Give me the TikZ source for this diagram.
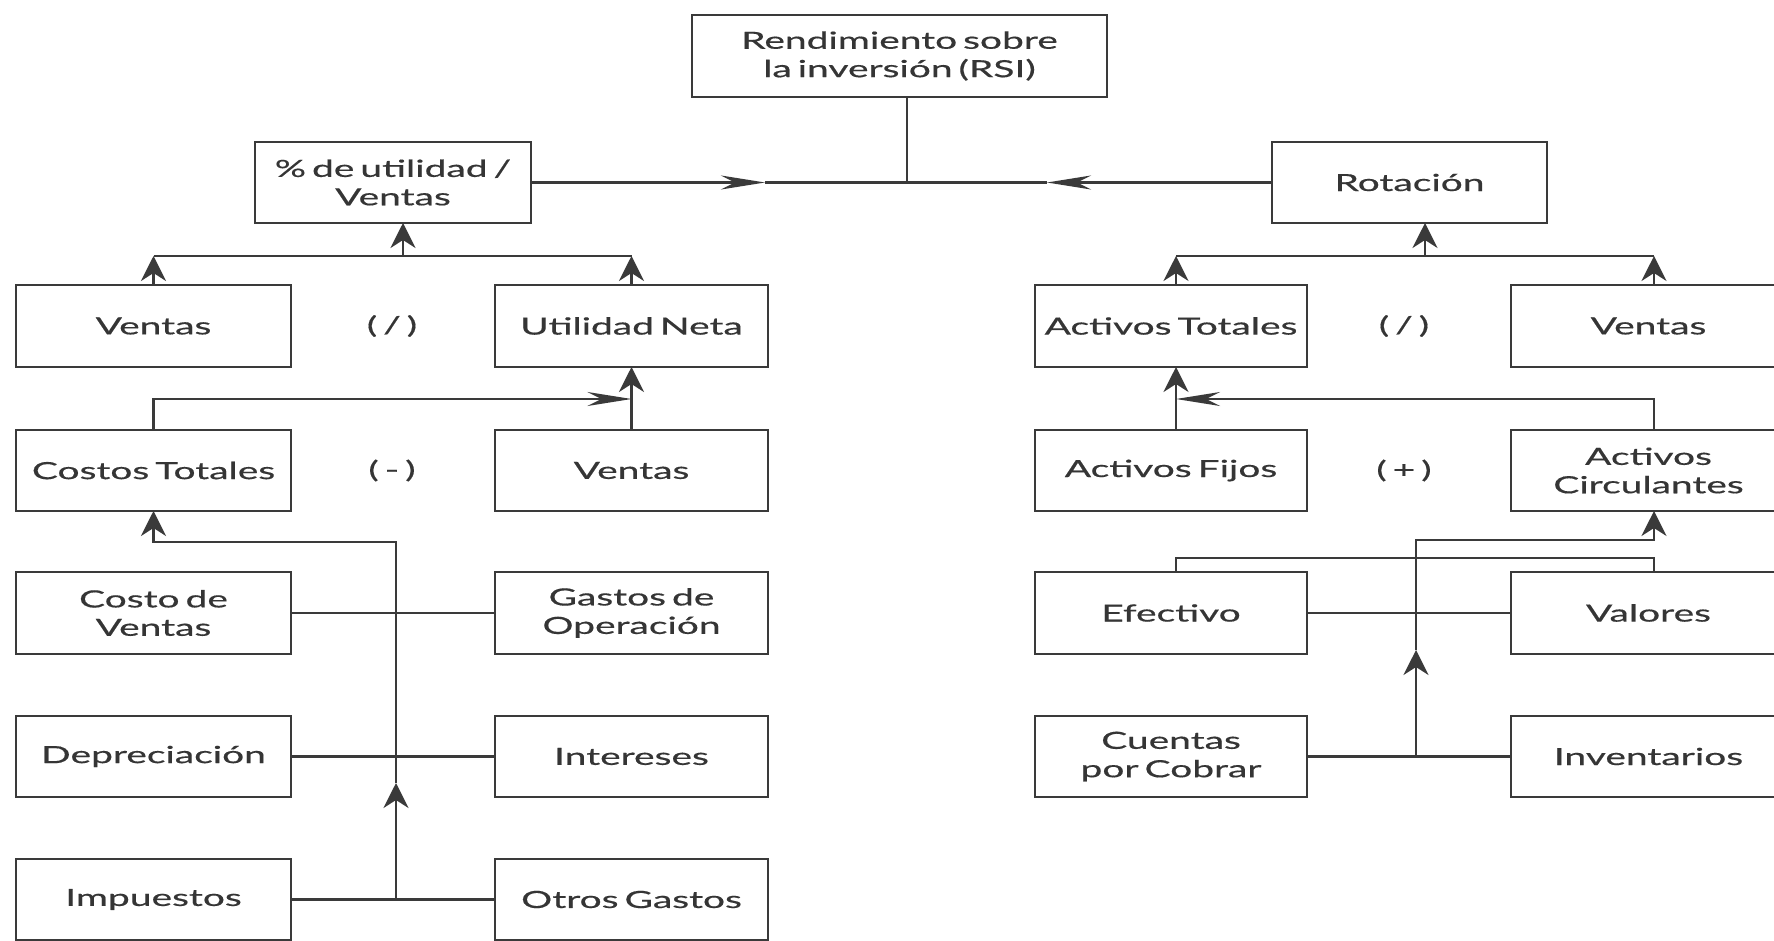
\documentclass[tikz,border=0pt]{standalone}
\usepackage{fontspec}
\setmainfont{Lato}[FakeStretch=1.65, WordSpace=0.6, FakeBold=0.5]
\usetikzlibrary{arrows.meta}
\definecolor{lc}{HTML}{3A3A3A}
\definecolor{tc}{HTML}{353535}
\begin{document}
\begin{tikzpicture}[x=0.5pt,y=-0.5pt,
  box/.style={draw=lc, line width=1.1pt, inner sep=0pt, outer sep=0pt, align=center, text=tc,
    font=\fontsize{11.8pt}{14.2pt}\selectfont},
  op/.style={inner sep=0pt, text=tc, font=\fontsize{11.8pt}{14.2pt}\selectfont},
  c1/.style={minimum width=137.5pt},
  c2/.style={minimum width=136.5pt},
  c3/.style={minimum width=136pt},
  c4/.style={minimum width=137.5pt},
  ha/.style={minimum height=41pt},
  hb/.style={minimum height=40.5pt},
  ln/.style={draw=lc, line width=1.1pt},
  arrV/.style={ln, -{Stealth[length=12.5pt,width=12.5pt,inset=4pt]}},
  arrH/.style={ln, -{Stealth[length=22pt,width=7pt,inset=7pt]}}]
\useasboundingbox (0,0) rectangle (1774,941);
\fill[white] (0,0) rectangle (1774,941);
\clip (0,0) rectangle (1774,941);

% top
\node[box, minimum width=207.5pt, ha] (rsi) at (899.5,56) {Rendimiento sobre\\la inversión (RSI)};
\node[box, minimum width=138pt, hb] (pct) at (393,182.5) {\% de utilidad /\\Ventas};
\node[box, minimum width=137.5pt, hb] (rot) at (1409.5,182.5) {Rotación};

% row 2
\node[box, c1, ha] (ventasL) at (153.5,326) {Ventas};
\node[box, c2, ha] (utilN) at (631.5,326) {Utilidad Neta};
\node[box, c3, ha] (actTot) at (1171,326) {Activos Totales};
\node[box, c4, ha] (ventasR) at (1648.5,326) {Ventas};
\node[op] (op1) at (392,326) {( / )};
\node[op] (op2) at (1404,326) {( / )};

% row 3
\node[box, c1, hb] (costT) at (153.5,470.5) {Costos Totales};
\node[box, c2, hb] (ventas2) at (631.5,470.5) {Ventas};
\node[box, c3, hb] (actFij) at (1171,470.5) {Activos Fijos};
\node[box, c4, hb] (actCirc) at (1648.5,470.5) {Activos\\Circulantes};
\node[op] (op3) at (392,470.5) {( - )};
\node[op] (op4) at (1404,470.5) {( + )};

% row 4
\node[box, c1, ha] (cdv) at (153.5,613) {Costo de\\Ventas};
\node[box, c2, ha] (gdo) at (631.5,613) {Gastos de\\Operación};
\node[box, c3, ha] (efec) at (1171,613) {Efectivo};
\node[box, c4, ha] (valores) at (1648.5,613) {Valores};

% row 5
\node[box, c1, hb] (dep) at (153.5,756.5) {Depreciación};
\node[box, c2, hb] (inter) at (631.5,756.5) {Intereses};
\node[box, c3, hb] (cxc) at (1171,756.5) {Cuentas\\por Cobrar};
\node[box, c4, hb] (invent) at (1648.5,756.5) {Inventarios};

% row 6
\node[box, c1, hb] (imp) at (153.5,899.5) {Impuestos};
\node[box, c2, hb] (otros) at (631.5,899.5) {Otros Gastos};

% junction coordinates
\coordinate (jT) at (907,182.5);
\coordinate (aL) at (765,182.5);
\coordinate (aR) at (1047,182.5);
\coordinate (jL1) at (403,256);
\coordinate (jL2) at (631.5,399);
\coordinate (jR1) at (1425,256);
\coordinate (jR2) at (1176,399);
\coordinate (xR3) at (1176,0);
\coordinate (xR4) at (1654,0);
\coordinate (tL0) at (396,899.5);
\coordinate (tLm) at (396,783);
\coordinate (tL1) at (396,542);
\coordinate (tR0) at (1416,756.5);
\coordinate (tRm) at (1416,650);
\coordinate (tR1) at (1416,540);
\coordinate (bR) at (1416,558);

% top connectors
\draw[ln] (rsi.south -| jT) -- (jT);
\draw[arrH] (pct.east) -- (aL);
\draw[arrH] (rot.west) -- (aR);
\draw[ln] (aL) -- (aR);

% left row 2
\draw[arrV] (ventasL.north) -- (ventasL.north |- jL1);
\draw[arrV] (utilN.north) -- (utilN.north |- jL1);
\draw[ln] (ventasL.north |- jL1) -- (utilN.north |- jL1);
\draw[arrV] (jL1) -- (pct.south -| jL1);

% left row 3
\draw[arrH] (costT.north) |- (jL2);
\draw[arrV] (ventas2.north) -- (utilN.south);

% left lower
\draw[ln] (cdv.east) -- (gdo.west);
\draw[ln] (dep.east) -- (inter.west);
\draw[ln] (imp.east) -- (otros.west);
\draw[arrV] (tL0) -- (tLm);
\draw[arrV] (tLm) -- (tL1) -| (costT.south);

% right row 2
\draw[arrV] (actTot.north -| xR3) -- (jR1 -| xR3);
\draw[arrV] (ventasR.north -| xR4) -- (jR1 -| xR4);
\draw[ln] (jR1 -| xR3) -- (jR1 -| xR4);
\draw[arrV] (jR1) -- (rot.south -| jR1);

% right row 3
\draw[arrH] (actCirc.north -| xR4) |- (jR2);
\draw[arrV] (actFij.north -| xR3) -- (actTot.south -| xR3);

% right lower
\draw[ln] (efec.east) -- (valores.west);
\draw[ln] (cxc.east) -- (invent.west);
\draw[ln] (efec.north -| xR3) |- (bR) -| (valores.north -| xR4);
\draw[arrV] (tR0) -- (tRm);
\draw[arrV] (tRm) -- (tR1) -| (actCirc.south -| xR4);
\end{tikzpicture}
\end{document}
